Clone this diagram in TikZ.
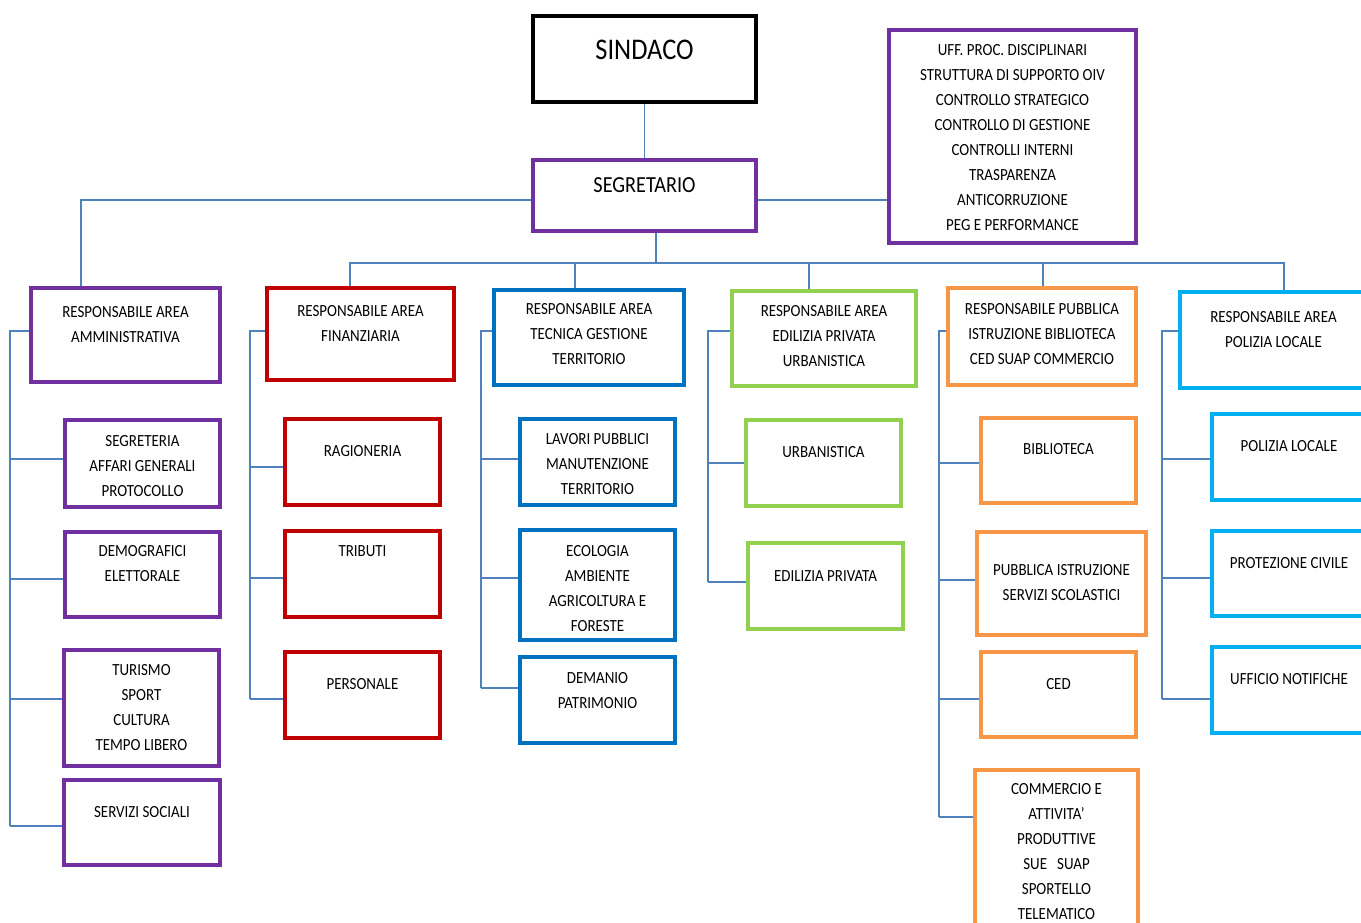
\documentclass[tikz,border=0pt]{standalone}
\usepackage{fontspec}
\setmainfont{Carlito}[FakeStretch=0.88]
\usetikzlibrary{fit}

\definecolor{viola}{HTML}{7030A0}
\definecolor{rosso}{HTML}{C00000}
\definecolor{blu}{HTML}{0070C0}
\definecolor{verde}{HTML}{92D050}
\definecolor{arancio}{HTML}{F79646}
\definecolor{azzurro}{HTML}{00B0F0}
\definecolor{linea}{HTML}{4F81BD}

\tikzset{
  box/.style={draw,line width=3.2pt,inner sep=0pt},
  txt/.style={align=center,inner sep=0pt,font=\fontsize{17}{25}\selectfont},
  link/.style={linea,line width=1.1pt}
}

% box: name, colour, x1, y1, x2, y2, text y, text
\newcommand{\ufficio}[8]{%
  \node[box,draw=#2,fit={(#3,#4) (#5,#6)}] (#1) {};
  \node[txt] (#1-t) at (#1.center |- 0,#7) {#8};
}

\begin{document}
\begin{tikzpicture}[x=1pt,y=-1pt]
\useasboundingbox (0,0) rectangle (1361,923);
\clip (0,0) rectangle (1361,923);

%% vertice
\node[box,draw=black,line width=3.6pt,fit={(533,16) (756,102)}] (sindaco) {};
\node[txt,font=\fontsize{30}{36}\selectfont] (sindaco-t) at (sindaco.center |- 0,50) {SINDACO};
\node[box,draw=viola,fit={(533,160) (756,231)}] (segr) {};
\node[txt,font=\fontsize{23}{28}\selectfont] (segr-t) at (segr.center |- 0,185) {SEGRETARIO};
\ufficio{uff}{viola}{889}{30}{1136}{243}{137.5}{UFF. PROC. DISCIPLINARI\\STRUTTURA DI SUPPORTO OIV\\CONTROLLO STRATEGICO\\CONTROLLO DI GESTIONE\\CONTROLLI INTERNI\\TRASPARENZA\\ANTICORRUZIONE\\PEG E PERFORMANCE}

%% responsabili
\ufficio{amm}{viola}{31}{288}{220}{382}{324.5}{RESPONSABILE AREA\\AMMINISTRATIVA}
\ufficio{fin}{rosso}{267}{288}{454}{380}{323.5}{RESPONSABILE AREA\\FINANZIARIA}
\ufficio{tec}{blu}{494}{290}{684}{385}{334.5}{RESPONSABILE AREA\\TECNICA GESTIONE\\TERRITORIO}
\ufficio{edi}{verde}{732}{291}{916}{386}{336}{RESPONSABILE AREA\\EDILIZIA PRIVATA\\URBANISTICA}
\ufficio{pub}{arancio}{948}{288}{1136}{385}{334.5}{RESPONSABILE PUBBLICA\\ISTRUZIONE BIBLIOTECA\\CED SUAP COMMERCIO}
\ufficio{pol}{azzurro}{1180}{292}{1367}{388}{329.5}{RESPONSABILE AREA\\POLIZIA LOCALE}

%% area amministrativa
\ufficio{seg}{viola}{65}{420}{220}{507}{466}{SEGRETERIA\\AFFARI GENERALI\\PROTOCOLLO}
\ufficio{dem}{viola}{65}{532}{220}{617}{563.5}{DEMOGRAFICI\\ELETTORALE}
\ufficio{tur}{viola}{64}{650}{219}{766}{707.5}{TURISMO\\SPORT\\CULTURA\\TEMPO LIBERO}
\ufficio{soc}{viola}{64}{780}{220}{865}{812}{SERVIZI SOCIALI}

%% area finanziaria
\ufficio{rag}{rosso}{285}{419}{440}{505}{451}{RAGIONERIA}
\ufficio{tri}{rosso}{285}{531}{440}{617}{551}{TRIBUTI}
\ufficio{per}{rosso}{285}{652}{440}{738}{684}{PERSONALE}

%% area tecnica
\ufficio{lav}{blu}{520}{419}{675}{505}{464.5}{LAVORI PUBBLICI\\MANUTENZIONE\\TERRITORIO}
\ufficio{eco}{blu}{520}{530}{675}{640}{588.5}{ECOLOGIA\\AMBIENTE\\AGRICOLTURA E\\FORESTE}
\ufficio{dema}{blu}{520}{657}{675}{743}{690.5}{DEMANIO\\PATRIMONIO}

%% edilizia privata
\ufficio{urb}{verde}{746}{420}{901}{506}{452}{URBANISTICA}
\ufficio{ep}{verde}{748}{543}{903}{629}{576}{EDILIZIA PRIVATA}

%% pubblica istruzione
\ufficio{bib}{arancio}{981}{418}{1136}{503}{449}{BIBLIOTECA}
\ufficio{pi}{arancio}{977}{532}{1146}{635}{582.5}{PUBBLICA ISTRUZIONE\\SERVIZI SCOLASTICI}
\ufficio{ced}{arancio}{981}{652}{1136}{737}{684}{CED}
\ufficio{com}{arancio}{975}{770}{1138}{940}{851.5}{COMMERCIO E\\ATTIVITA’\\PRODUTTIVE\\SUE~~~SUAP\\SPORTELLO\\TELEMATICO}

%% polizia locale
\ufficio{pl}{azzurro}{1212}{414}{1366}{500}{446}{POLIZIA LOCALE}
\ufficio{pc}{azzurro}{1212}{531}{1366}{616}{563}{PROTEZIONE CIVILE}
\ufficio{un}{azzurro}{1212}{647}{1366}{733}{679}{UFFICIO NOTIFICHE}

%% collegamenti
\draw[link] (sindaco) -- (segr);
\draw[link] (segr.west |- 0,200) -| (amm.north -| 81,0);
\draw[link] (segr.east |- 0,200) -- (uff.west |- 0,200);
\coordinate (bus) at (656,263);
\draw[link] (segr.south -| bus) -- (bus);
\foreach \n/\x in {fin/350,tec/575,edi/809,pub/1043,pol/1284}
  \draw[link] (bus) -| (\n.north -| \x,0);

%% binari laterali
\coordinate (r1) at (10,0);
\coordinate (r2) at (250,0);
\coordinate (r3) at (481,0);
\coordinate (r4) at (708,0);
\coordinate (r5) at (939,0);
\coordinate (r6) at (1162,0);
\foreach \capo/\r/\fine in {amm/r1/826,fin/r2/699,tec/r3/688,edi/r4/582,pub/r5/817,pol/r6/699}
  \draw[link] (\capo.west |- 0,331) -| (\r |- 0,\fine);
\foreach \n/\r/\y in {seg/r1/459,dem/r1/579,tur/r1/699,soc/r1/826,
                      rag/r2/467,tri/r2/578,per/r2/699,
                      lav/r3/459,eco/r3/578,dema/r3/688,
                      urb/r4/463,ep/r4/582,
                      bib/r5/463,pi/r5/580,ced/r5/699,com/r5/817,
                      pl/r6/459,pc/r6/578,un/r6/699}
  \draw[link] (\r |- 0,\y) -- (\n.west |- 0,\y);
\end{tikzpicture}
\end{document}
